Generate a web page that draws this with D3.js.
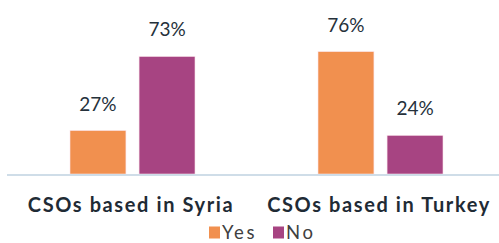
<!DOCTYPE html>
<html>
<head>
<meta charset="utf-8">
<script src="https://cdn.jsdelivr.net/npm/d3@7"></script>
<style>
  body { margin: 0; background: #fff; }
  svg { display: block; font-family: Lato, "Open Sans", sans-serif; }
</style>
</head>
<body>
<div id="chart"></div>
<script>
// Chart data.
const categories = ['CSOs based in Syria', 'CSOs based in Turkey'];
const seriesNames = ['Yes', 'No'];
const yesValues = [27, 76];
const noValues = [73, 24];
const colors = ['#f1904f', '#a74482'];

const width = 499,
      height = 243;

let margin = {top: 10, right: -5, bottom: 69, left: 8};

let svg = d3.select('#chart')
            .append('svg')
            .attr('width', width)
            .attr('height', height);

let baseY = height - margin.bottom;

// Band per category, sub band per series.
let x0 = d3.scaleBand()
           .domain(categories)
           .range([margin.left, width - margin.right])
           .paddingInner(0)
           .paddingOuter(0);

let x1 = d3.scaleBand()
           .domain(seriesNames)
           .range([62, 187])
           .paddingInner(0.19);

let y = d3.scaleLinear()
          .domain([0, 100])
          .range([baseY, baseY - 161]);

let rows = categories.map((c, i) => ({
  category: c,
  values: [
    {key: 'Yes', value: yesValues[i]},
    {key: 'No', value: noValues[i]}
  ]
}));

let color = d3.scaleOrdinal().domain(seriesNames).range(colors);

let groups = svg.selectAll('g.group')
                .data(rows)
                .enter()
                .append('g')
                .attr('class', 'group')
                .attr('transform', d => `translate(${x0(d.category)}, 0)`);

groups.selectAll('rect')
      .data(d => d.values)
      .enter()
      .append('rect')
      .attr('x', d => x1(d.key))
      .attr('y', d => y(d.value))
      .attr('width', x1.bandwidth())
      .attr('height', d => baseY - y(d.value))
      .attr('fill', d => color(d.key))
      .attr('stroke', '#fbe3ea')
      .attr('stroke-width', 0.6);

// Value labels above bars.
groups.selectAll('text.value')
      .data(d => d.values)
      .enter()
      .append('text')
      .attr('class', 'value')
      .attr('x', d => x1(d.key) + x1.bandwidth() / 2)
      .attr('y', d => y(d.value) - 20)
      .attr('text-anchor', 'middle')
      .attr('font-size', 19)
      .attr('fill', '#25313b')
      .text(d => d.value + '%');

// Baseline.
svg.append('line')
   .attr('x1', 7)
   .attr('x2', width)
   .attr('y1', baseY + 1)
   .attr('y2', baseY + 1)
   .attr('stroke', '#cfdde8')
   .attr('stroke-width', 2);

// Category axis labels.
let xAxis = d3.axisBottom(x0).tickSize(0).tickPadding(0);
let axisG = svg.append('g')
               .attr('transform', `translate(0, ${baseY + 38})`)
               .call(xAxis);
axisG.select('.domain').remove();
axisG.selectAll('text')
     .attr('dy', 0)
     .attr('x', -1)
     .attr('font-family', 'Lato, sans-serif')
     .attr('font-size', 20)
     .attr('font-weight', 'bold')
     .attr('letter-spacing', 1.6)
     .attr('fill', '#1f2b35');

// Legend (nudged up a bit so descenders stay inside the picture).
let legend = svg.append('g')
                .attr('transform', 'translate(209, 226.5)');

let legendX = [0, 64];
let item = legend.selectAll('g')
                 .data(seriesNames)
                 .enter()
                 .append('g')
                 .attr('transform', (d, i) => `translate(${legendX[i]}, 0)`);

item.append('rect')
    .attr('width', 11)
    .attr('height', 12)
    .attr('fill', d => color(d));

item.append('text')
    .attr('x', 13)
    .attr('y', 12.3)
    .attr('font-size', 18.5)
    .attr('letter-spacing', 2.6)
    .attr('fill', '#404040')
    .text(d => d);
</script>
</body>
</html>
